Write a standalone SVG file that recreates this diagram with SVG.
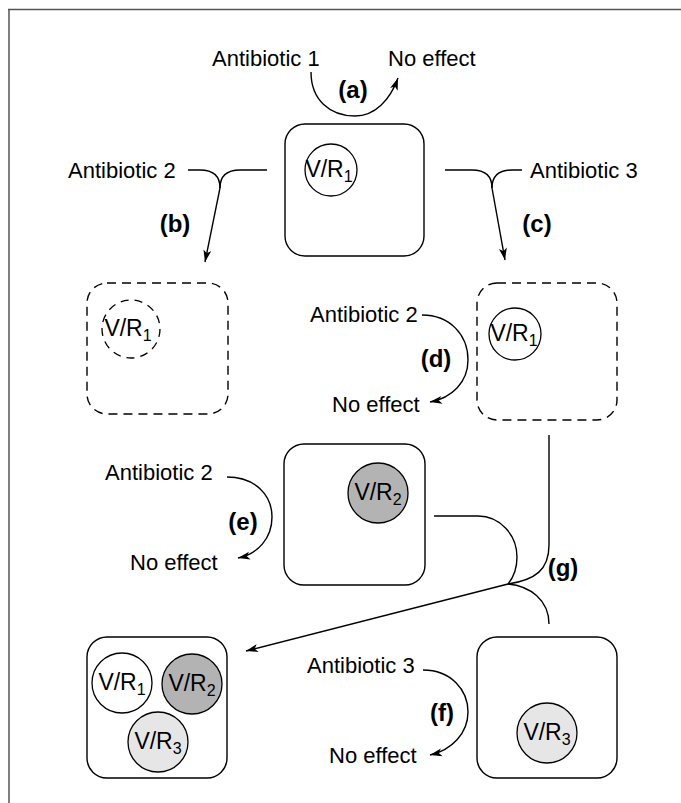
<svg xmlns="http://www.w3.org/2000/svg" width="681" height="803" viewBox="0 0 681 803">
<defs>
<marker id="ah" markerUnits="userSpaceOnUse" markerWidth="14" markerHeight="10" refX="12" refY="4" orient="auto" overflow="visible">
<path d="M0,0 L12,4 L0,8 L3,4 Z" fill="#000"/>
</marker>
<style>
text{font-family:"Liberation Sans",Arial,sans-serif;font-size:22px;fill:#000}
.lb{font-weight:bold;font-size:24px;text-anchor:middle}
.sub{font-size:16px}
.vr{text-anchor:middle;font-size:23px}
.box{fill:#fff;stroke:#000;stroke-width:1.4}
.dash{fill:#fff;stroke:#000;stroke-width:1.4;stroke-dasharray:9 6}
.c{fill:#fff;stroke:#000;stroke-width:1.3}
.cd{fill:#fff;stroke:#000;stroke-width:1.3;stroke-dasharray:8 6}
.g2{fill:#b3b3b3;stroke:#000;stroke-width:1.3}
.g3{fill:#e6e6e6;stroke:#000;stroke-width:1.3}
.ln{fill:none;stroke:#000;stroke-width:1.4}
.ar{fill:none;stroke:#000;stroke-width:1.4;marker-end:url(#ah)}
</style>
</defs>
<rect width="681" height="803" fill="#fff"/>
<path d="M8,9.5 H681 M9,9 V803" fill="none" stroke="#555" stroke-width="1.5"/>

<g id="connectors">
<path class="ar" d="M311,72 C311,100 330,116 355,116 C375,116 390,100 398,78"/>
<path class="ln" d="M188,170 L200,170 C214,170 220,176 220,188"/>
<path class="ln" d="M267,170 L240,170 C226,170 220,176 220,188"/>
<path class="ar" d="M220,188 L205,262"/>
<path class="ln" d="M445,170 L472,170 C486,170 492,176 492,188"/>
<path class="ln" d="M522,170 L512,170 C498,170 492,176 492,188"/>
<path class="ar" d="M492,188 L505,260"/>
<path class="ar" d="M422,315 C450,315 468,335 468,360 C468,382 452,398 430,402"/>
<path class="ar" d="M227,477 C255,477 272,495 272,517 C272,538 258,554 238,558"/>
<path class="ar" d="M423,670 C451,670 468,690 468,712 C468,733 452,750 430,755"/>
<path class="ln" d="M549,435 L549,545 C549,570 535,580 508,584"/>
<path class="ln" d="M434,516 L478,516 C500,516 517,535 517,557 C517,570 513,578 508,584"/>
<path class="ln" d="M549,624 C549,600 530,586 508,584"/>
<path class="ar" d="M508,584 L246,651"/>
</g>

<g id="labels">
<text x="212" y="66">Antibiotic 1</text>
<text x="388" y="66">No effect</text>
<text class="lb" x="353" y="98">(a)</text>
<text x="68" y="178">Antibiotic 2</text>
<text class="lb" x="175" y="232">(b)</text>
<text x="530" y="178">Antibiotic 3</text>
<text class="lb" x="537" y="232">(c)</text>
<text x="310" y="322">Antibiotic 2</text>
<text x="332" y="412">No effect</text>
<text class="lb" x="436" y="367">(d)</text>
<text x="105" y="480">Antibiotic 2</text>
<text x="130" y="570">No effect</text>
<text class="lb" x="243" y="530">(e)</text>
<text x="307" y="673">Antibiotic 3</text>
<text x="329" y="763">No effect</text>
<text class="lb" x="442" y="721">(f)</text>
<text class="lb" x="563" y="576">(g)</text>
</g>

<g id="node-top">
<rect class="box" x="285" y="124" width="139" height="132" rx="20"/>
<circle class="c" cx="331" cy="170" r="26"/>
<text class="vr" x="329" y="177">V/R<tspan class="sub" dy="5">1</tspan></text>
</g>

<g id="node-b">
<rect class="dash" x="87" y="283" width="141" height="131" rx="20"/>
<circle class="cd" cx="131" cy="329" r="29"/>
<text class="vr" x="128" y="336">V/R<tspan class="sub" dy="5">1</tspan></text>
</g>

<g id="node-c">
<rect class="dash" x="477" y="283" width="140" height="137" rx="20"/>
<circle class="c" cx="515" cy="334" r="26"/>
<text class="vr" x="514" y="341">V/R<tspan class="sub" dy="5">1</tspan></text>
</g>

<g id="node-r2">
<rect class="box" x="284" y="444" width="141" height="141" rx="20"/>
<circle class="g2" cx="378" cy="493" r="30"/>
<text class="vr" x="378" y="500">V/R<tspan class="sub" dy="5">2</tspan></text>
</g>

<g id="node-r3">
<rect class="box" x="477" y="637" width="140" height="141" rx="20"/>
<circle class="g3" cx="547" cy="733" r="30"/>
<text class="vr" x="547" y="740">V/R<tspan class="sub" dy="5">3</tspan></text>
</g>

<g id="node-all">
<rect class="box" x="87" y="637" width="140" height="141" rx="20"/>
<circle class="c" cx="122" cy="683" r="30"/>
<text class="vr" x="122" y="690">V/R<tspan class="sub" dy="5">1</tspan></text>
<circle class="g2" cx="192" cy="684" r="30"/>
<text class="vr" x="192" y="691">V/R<tspan class="sub" dy="5">2</tspan></text>
<circle class="g3" cx="158" cy="742" r="30"/>
<text class="vr" x="158" y="749">V/R<tspan class="sub" dy="5">3</tspan></text>
</g>
</svg>
